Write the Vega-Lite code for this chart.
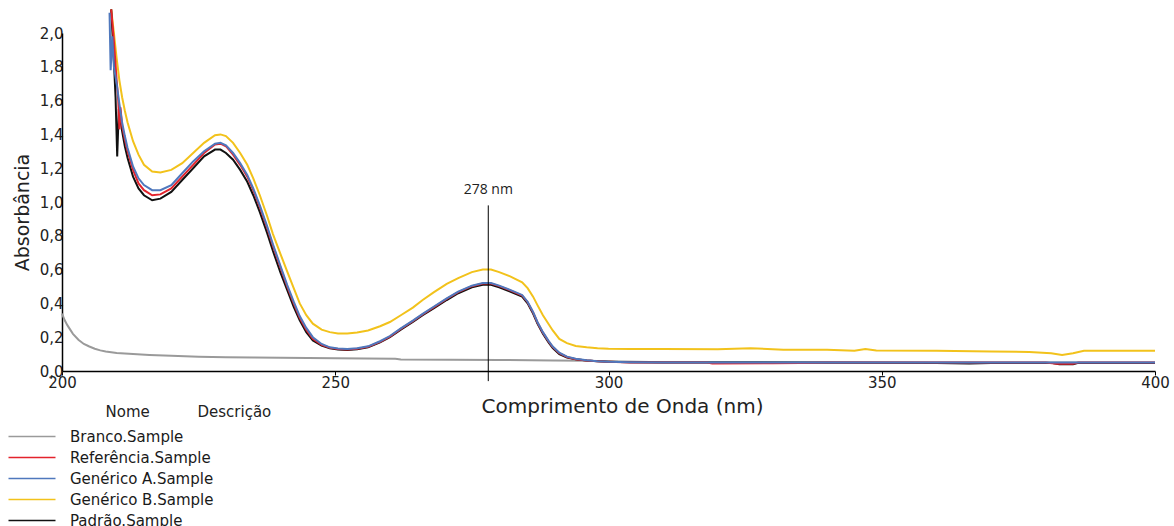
{
  "$schema": "https://vega.github.io/schema/vega-lite/v6.json",
  "width": 1093,
  "height": 338,
  "autosize": {"type": "none"},
  "padding": {"left": 62, "top": 33, "right": 19, "bottom": 155},
  "background": "white",
  "config": {"view": {"stroke": null}, "font": "DejaVu Sans"},
  "datasets": {
    "spectra": [
      {"s":"Branco.Sample","nm":200,"a":0.34},{"s":"Branco.Sample","nm":200.5,"a":0.3},{"s":"Branco.Sample","nm":201,"a":0.27},{"s":"Branco.Sample","nm":201.5,"a":0.245},{"s":"Branco.Sample","nm":202,"a":0.22},{"s":"Branco.Sample","nm":203,"a":0.185},{"s":"Branco.Sample","nm":204,"a":0.16},{"s":"Branco.Sample","nm":205,"a":0.145},{"s":"Branco.Sample","nm":206,"a":0.132},{"s":"Branco.Sample","nm":207,"a":0.122},{"s":"Branco.Sample","nm":208,"a":0.115},{"s":"Branco.Sample","nm":210,"a":0.107},{"s":"Branco.Sample","nm":213,"a":0.1},{"s":"Branco.Sample","nm":216,"a":0.095},{"s":"Branco.Sample","nm":220,"a":0.09},{"s":"Branco.Sample","nm":225,"a":0.085},{"s":"Branco.Sample","nm":230,"a":0.082},{"s":"Branco.Sample","nm":235,"a":0.08},{"s":"Branco.Sample","nm":240,"a":0.078},{"s":"Branco.Sample","nm":250,"a":0.075},{"s":"Branco.Sample","nm":261,"a":0.073},{"s":"Branco.Sample","nm":262,"a":0.068},{"s":"Branco.Sample","nm":280,"a":0.065},{"s":"Branco.Sample","nm":290,"a":0.062},{"s":"Branco.Sample","nm":296,"a":0.06},{"s":"Branco.Sample","nm":300,"a":0.057},{"s":"Branco.Sample","nm":310,"a":0.052},{"s":"Branco.Sample","nm":400,"a":0.05},

      {"s":"Genérico B.Sample","nm":209.0,"a":2.14},{"s":"Genérico B.Sample","nm":209.5,"a":2.0},{"s":"Genérico B.Sample","nm":210.0,"a":1.85},{"s":"Genérico B.Sample","nm":210.5,"a":1.72},{"s":"Genérico B.Sample","nm":211.0,"a":1.62},{"s":"Genérico B.Sample","nm":211.5,"a":1.54},{"s":"Genérico B.Sample","nm":212.0,"a":1.47},{"s":"Genérico B.Sample","nm":213.0,"a":1.36},{"s":"Genérico B.Sample","nm":214.0,"a":1.28},{"s":"Genérico B.Sample","nm":215.0,"a":1.22},{"s":"Genérico B.Sample","nm":216.5,"a":1.18},{"s":"Genérico B.Sample","nm":218,"a":1.175},{"s":"Genérico B.Sample","nm":220,"a":1.19},{"s":"Genérico B.Sample","nm":222,"a":1.23},{"s":"Genérico B.Sample","nm":224,"a":1.29},{"s":"Genérico B.Sample","nm":226,"a":1.35},{"s":"Genérico B.Sample","nm":228,"a":1.395},{"s":"Genérico B.Sample","nm":229,"a":1.4},{"s":"Genérico B.Sample","nm":230,"a":1.39},{"s":"Genérico B.Sample","nm":231.3,"a":1.35},{"s":"Genérico B.Sample","nm":232.6,"a":1.29},{"s":"Genérico B.Sample","nm":233.9,"a":1.22},{"s":"Genérico B.Sample","nm":235,"a":1.14},{"s":"Genérico B.Sample","nm":236.2,"a":1.04},{"s":"Genérico B.Sample","nm":237.5,"a":0.92},{"s":"Genérico B.Sample","nm":238.6,"a":0.81},{"s":"Genérico B.Sample","nm":240,"a":0.69},{"s":"Genérico B.Sample","nm":241.2,"a":0.59},{"s":"Genérico B.Sample","nm":242.4,"a":0.49},{"s":"Genérico B.Sample","nm":243.5,"a":0.4},{"s":"Genérico B.Sample","nm":244.7,"a":0.33},{"s":"Genérico B.Sample","nm":245.9,"a":0.28},{"s":"Genérico B.Sample","nm":247.5,"a":0.245},{"s":"Genérico B.Sample","nm":249,"a":0.23},{"s":"Genérico B.Sample","nm":250.5,"a":0.222},{"s":"Genérico B.Sample","nm":252.2,"a":0.222},{"s":"Genérico B.Sample","nm":254,"a":0.228},{"s":"Genérico B.Sample","nm":256,"a":0.24},{"s":"Genérico B.Sample","nm":258.2,"a":0.265},{"s":"Genérico B.Sample","nm":260,"a":0.29},{"s":"Genérico B.Sample","nm":262,"a":0.33},{"s":"Genérico B.Sample","nm":264.2,"a":0.375},{"s":"Genérico B.Sample","nm":266,"a":0.42},{"s":"Genérico B.Sample","nm":268,"a":0.465},{"s":"Genérico B.Sample","nm":270.4,"a":0.515},{"s":"Genérico B.Sample","nm":272.5,"a":0.55},{"s":"Genérico B.Sample","nm":275,"a":0.585},{"s":"Genérico B.Sample","nm":277,"a":0.6},{"s":"Genérico B.Sample","nm":278.5,"a":0.6},{"s":"Genérico B.Sample","nm":280,"a":0.585},{"s":"Genérico B.Sample","nm":282,"a":0.56},{"s":"Genérico B.Sample","nm":284.2,"a":0.525},{"s":"Genérico B.Sample","nm":285.2,"a":0.49},{"s":"Genérico B.Sample","nm":286.2,"a":0.44},{"s":"Genérico B.Sample","nm":287,"a":0.39},{"s":"Genérico B.Sample","nm":288,"a":0.33},{"s":"Genérico B.Sample","nm":289,"a":0.28},{"s":"Genérico B.Sample","nm":289.8,"a":0.24},{"s":"Genérico B.Sample","nm":291,"a":0.19},{"s":"Genérico B.Sample","nm":292.4,"a":0.165},{"s":"Genérico B.Sample","nm":294,"a":0.148},{"s":"Genérico B.Sample","nm":296,"a":0.14},{"s":"Genérico B.Sample","nm":298,"a":0.135},{"s":"Genérico B.Sample","nm":300,"a":0.132},{"s":"Genérico B.Sample","nm":304,"a":0.13},{"s":"Genérico B.Sample","nm":310,"a":0.13},{"s":"Genérico B.Sample","nm":320,"a":0.128},{"s":"Genérico B.Sample","nm":326,"a":0.135},{"s":"Genérico B.Sample","nm":332,"a":0.126},{"s":"Genérico B.Sample","nm":340,"a":0.126},{"s":"Genérico B.Sample","nm":345,"a":0.12},{"s":"Genérico B.Sample","nm":347,"a":0.13},{"s":"Genérico B.Sample","nm":349,"a":0.122},{"s":"Genérico B.Sample","nm":360,"a":0.12},{"s":"Genérico B.Sample","nm":370,"a":0.115},{"s":"Genérico B.Sample","nm":377,"a":0.113},{"s":"Genérico B.Sample","nm":381,"a":0.105},{"s":"Genérico B.Sample","nm":383,"a":0.095},{"s":"Genérico B.Sample","nm":385,"a":0.105},{"s":"Genérico B.Sample","nm":387,"a":0.12},{"s":"Genérico B.Sample","nm":400,"a":0.12},

      {"s":"Padrão.Sample","nm":209.0,"a":2.14},{"s":"Padrão.Sample","nm":209.4,"a":1.9},{"s":"Padrão.Sample","nm":209.8,"a":1.62},{"s":"Padrão.Sample","nm":210.1,"a":1.27},{"s":"Padrão.Sample","nm":210.4,"a":1.55},{"s":"Padrão.Sample","nm":211.0,"a":1.42},{"s":"Padrão.Sample","nm":211.5,"a":1.33},{"s":"Padrão.Sample","nm":212.0,"a":1.26},{"s":"Padrão.Sample","nm":213.0,"a":1.15},{"s":"Padrão.Sample","nm":214.0,"a":1.08},{"s":"Padrão.Sample","nm":215.0,"a":1.04},{"s":"Padrão.Sample","nm":216.5,"a":1.01},{"s":"Padrão.Sample","nm":218,"a":1.02},{"s":"Padrão.Sample","nm":220,"a":1.06},{"s":"Padrão.Sample","nm":222,"a":1.13},{"s":"Padrão.Sample","nm":224,"a":1.2},{"s":"Padrão.Sample","nm":226,"a":1.27},{"s":"Padrão.Sample","nm":228,"a":1.31},{"s":"Padrão.Sample","nm":229,"a":1.31},{"s":"Padrão.Sample","nm":230,"a":1.29},{"s":"Padrão.Sample","nm":231.3,"a":1.25},{"s":"Padrão.Sample","nm":232.6,"a":1.19},{"s":"Padrão.Sample","nm":233.9,"a":1.12},{"s":"Padrão.Sample","nm":235,"a":1.04},{"s":"Padrão.Sample","nm":236.2,"a":0.94},{"s":"Padrão.Sample","nm":237.5,"a":0.82},{"s":"Padrão.Sample","nm":238.6,"a":0.71},{"s":"Padrão.Sample","nm":240,"a":0.58},{"s":"Padrão.Sample","nm":241.2,"a":0.48},{"s":"Padrão.Sample","nm":242.4,"a":0.38},{"s":"Padrão.Sample","nm":243.5,"a":0.3},{"s":"Padrão.Sample","nm":244.7,"a":0.23},{"s":"Padrão.Sample","nm":245.9,"a":0.18},{"s":"Padrão.Sample","nm":247.5,"a":0.15},{"s":"Padrão.Sample","nm":249,"a":0.135},{"s":"Padrão.Sample","nm":250.5,"a":0.127},{"s":"Padrão.Sample","nm":252.2,"a":0.124},{"s":"Padrão.Sample","nm":254,"a":0.128},{"s":"Padrão.Sample","nm":256,"a":0.14},{"s":"Padrão.Sample","nm":258.2,"a":0.17},{"s":"Padrão.Sample","nm":260,"a":0.2},{"s":"Padrão.Sample","nm":262,"a":0.245},{"s":"Padrão.Sample","nm":264.2,"a":0.29},{"s":"Padrão.Sample","nm":266,"a":0.33},{"s":"Padrão.Sample","nm":268,"a":0.37},{"s":"Padrão.Sample","nm":270.4,"a":0.42},{"s":"Padrão.Sample","nm":272.5,"a":0.46},{"s":"Padrão.Sample","nm":275,"a":0.495},{"s":"Padrão.Sample","nm":277,"a":0.51},{"s":"Padrão.Sample","nm":278.5,"a":0.51},{"s":"Padrão.Sample","nm":280,"a":0.495},{"s":"Padrão.Sample","nm":282,"a":0.47},{"s":"Padrão.Sample","nm":284.2,"a":0.44},{"s":"Padrão.Sample","nm":285.2,"a":0.4},{"s":"Padrão.Sample","nm":286.2,"a":0.34},{"s":"Padrão.Sample","nm":287,"a":0.28},{"s":"Padrão.Sample","nm":288,"a":0.22},{"s":"Padrão.Sample","nm":289,"a":0.17},{"s":"Padrão.Sample","nm":289.8,"a":0.135},{"s":"Padrão.Sample","nm":291,"a":0.1},{"s":"Padrão.Sample","nm":292.4,"a":0.08},{"s":"Padrão.Sample","nm":294,"a":0.07},{"s":"Padrão.Sample","nm":296,"a":0.062},{"s":"Padrão.Sample","nm":298,"a":0.057},{"s":"Padrão.Sample","nm":300,"a":0.055},{"s":"Padrão.Sample","nm":304,"a":0.052},{"s":"Padrão.Sample","nm":310,"a":0.05},{"s":"Padrão.Sample","nm":320,"a":0.05},{"s":"Padrão.Sample","nm":360,"a":0.048},{"s":"Padrão.Sample","nm":366,"a":0.045},{"s":"Padrão.Sample","nm":370,"a":0.048},{"s":"Padrão.Sample","nm":381,"a":0.048},{"s":"Padrão.Sample","nm":382.5,"a":0.04},{"s":"Padrão.Sample","nm":385,"a":0.04},{"s":"Padrão.Sample","nm":386,"a":0.048},{"s":"Padrão.Sample","nm":400,"a":0.048},

      {"s":"Referência.Sample","nm":209.0,"a":2.14},{"s":"Referência.Sample","nm":209.5,"a":1.95},{"s":"Referência.Sample","nm":210.0,"a":1.72},{"s":"Referência.Sample","nm":210.3,"a":1.6},{"s":"Referência.Sample","nm":210.5,"a":1.43},{"s":"Referência.Sample","nm":210.7,"a":1.56},{"s":"Referência.Sample","nm":211.0,"a":1.45},{"s":"Referência.Sample","nm":211.5,"a":1.37},{"s":"Referência.Sample","nm":212.0,"a":1.3},{"s":"Referência.Sample","nm":213.0,"a":1.19},{"s":"Referência.Sample","nm":214.0,"a":1.11},{"s":"Referência.Sample","nm":215.0,"a":1.07},{"s":"Referência.Sample","nm":216.5,"a":1.04},{"s":"Referência.Sample","nm":218,"a":1.045},{"s":"Referência.Sample","nm":220,"a":1.08},{"s":"Referência.Sample","nm":222,"a":1.15},{"s":"Referência.Sample","nm":224,"a":1.22},{"s":"Referência.Sample","nm":226,"a":1.29},{"s":"Referência.Sample","nm":228,"a":1.34},{"s":"Referência.Sample","nm":229,"a":1.345},{"s":"Referência.Sample","nm":230,"a":1.33},{"s":"Referência.Sample","nm":231.3,"a":1.28},{"s":"Referência.Sample","nm":232.6,"a":1.22},{"s":"Referência.Sample","nm":233.9,"a":1.15},{"s":"Referência.Sample","nm":235,"a":1.07},{"s":"Referência.Sample","nm":236.2,"a":0.97},{"s":"Referência.Sample","nm":237.5,"a":0.85},{"s":"Referência.Sample","nm":238.6,"a":0.74},{"s":"Referência.Sample","nm":240,"a":0.61},{"s":"Referência.Sample","nm":241.2,"a":0.5},{"s":"Referência.Sample","nm":242.4,"a":0.4},{"s":"Referência.Sample","nm":243.5,"a":0.315},{"s":"Referência.Sample","nm":244.7,"a":0.245},{"s":"Referência.Sample","nm":245.9,"a":0.19},{"s":"Referência.Sample","nm":247.5,"a":0.155},{"s":"Referência.Sample","nm":249,"a":0.138},{"s":"Referência.Sample","nm":250.5,"a":0.13},{"s":"Referência.Sample","nm":252.2,"a":0.127},{"s":"Referência.Sample","nm":254,"a":0.131},{"s":"Referência.Sample","nm":256,"a":0.143},{"s":"Referência.Sample","nm":258.2,"a":0.173},{"s":"Referência.Sample","nm":260,"a":0.204},{"s":"Referência.Sample","nm":262,"a":0.249},{"s":"Referência.Sample","nm":264.2,"a":0.295},{"s":"Referência.Sample","nm":266,"a":0.335},{"s":"Referência.Sample","nm":268,"a":0.377},{"s":"Referência.Sample","nm":270.4,"a":0.427},{"s":"Referência.Sample","nm":272.5,"a":0.467},{"s":"Referência.Sample","nm":275,"a":0.502},{"s":"Referência.Sample","nm":277,"a":0.518},{"s":"Referência.Sample","nm":278.5,"a":0.518},{"s":"Referência.Sample","nm":280,"a":0.502},{"s":"Referência.Sample","nm":282,"a":0.477},{"s":"Referência.Sample","nm":284.2,"a":0.447},{"s":"Referência.Sample","nm":285.2,"a":0.407},{"s":"Referência.Sample","nm":286.2,"a":0.347},{"s":"Referência.Sample","nm":287,"a":0.287},{"s":"Referência.Sample","nm":288,"a":0.227},{"s":"Referência.Sample","nm":289,"a":0.177},{"s":"Referência.Sample","nm":289.8,"a":0.142},{"s":"Referência.Sample","nm":291,"a":0.105},{"s":"Referência.Sample","nm":292.4,"a":0.083},{"s":"Referência.Sample","nm":294,"a":0.07},{"s":"Referência.Sample","nm":296,"a":0.062},{"s":"Referência.Sample","nm":298,"a":0.057},{"s":"Referência.Sample","nm":300,"a":0.054},{"s":"Referência.Sample","nm":304,"a":0.051},{"s":"Referência.Sample","nm":310,"a":0.05},{"s":"Referência.Sample","nm":318,"a":0.05},{"s":"Referência.Sample","nm":319,"a":0.044},{"s":"Referência.Sample","nm":330,"a":0.046},{"s":"Referência.Sample","nm":335,"a":0.048},{"s":"Referência.Sample","nm":340,"a":0.05},{"s":"Referência.Sample","nm":380,"a":0.05},{"s":"Referência.Sample","nm":382,"a":0.043},{"s":"Referência.Sample","nm":385,"a":0.043},{"s":"Referência.Sample","nm":386,"a":0.05},{"s":"Referência.Sample","nm":400,"a":0.05},

      {"s":"Genérico A.Sample","nm":208.7,"a":2.12},{"s":"Genérico A.Sample","nm":208.9,"a":1.78},{"s":"Genérico A.Sample","nm":209.2,"a":1.98},{"s":"Genérico A.Sample","nm":209.5,"a":1.8},{"s":"Genérico A.Sample","nm":210.0,"a":1.7},{"s":"Genérico A.Sample","nm":210.5,"a":1.58},{"s":"Genérico A.Sample","nm":211.0,"a":1.47},{"s":"Genérico A.Sample","nm":211.5,"a":1.39},{"s":"Genérico A.Sample","nm":212.0,"a":1.32},{"s":"Genérico A.Sample","nm":213.0,"a":1.21},{"s":"Genérico A.Sample","nm":214.0,"a":1.14},{"s":"Genérico A.Sample","nm":215.0,"a":1.1},{"s":"Genérico A.Sample","nm":216.5,"a":1.07},{"s":"Genérico A.Sample","nm":218,"a":1.07},{"s":"Genérico A.Sample","nm":220,"a":1.1},{"s":"Genérico A.Sample","nm":222,"a":1.17},{"s":"Genérico A.Sample","nm":224,"a":1.24},{"s":"Genérico A.Sample","nm":226,"a":1.3},{"s":"Genérico A.Sample","nm":228,"a":1.345},{"s":"Genérico A.Sample","nm":229,"a":1.35},{"s":"Genérico A.Sample","nm":230,"a":1.335},{"s":"Genérico A.Sample","nm":231.3,"a":1.29},{"s":"Genérico A.Sample","nm":232.6,"a":1.23},{"s":"Genérico A.Sample","nm":233.9,"a":1.16},{"s":"Genérico A.Sample","nm":235,"a":1.08},{"s":"Genérico A.Sample","nm":236.2,"a":0.98},{"s":"Genérico A.Sample","nm":237.5,"a":0.86},{"s":"Genérico A.Sample","nm":238.6,"a":0.75},{"s":"Genérico A.Sample","nm":240,"a":0.62},{"s":"Genérico A.Sample","nm":241.2,"a":0.51},{"s":"Genérico A.Sample","nm":242.4,"a":0.41},{"s":"Genérico A.Sample","nm":243.5,"a":0.325},{"s":"Genérico A.Sample","nm":244.7,"a":0.255},{"s":"Genérico A.Sample","nm":245.9,"a":0.2},{"s":"Genérico A.Sample","nm":247.5,"a":0.16},{"s":"Genérico A.Sample","nm":249,"a":0.14},{"s":"Genérico A.Sample","nm":250.5,"a":0.133},{"s":"Genérico A.Sample","nm":252.2,"a":0.13},{"s":"Genérico A.Sample","nm":254,"a":0.134},{"s":"Genérico A.Sample","nm":256,"a":0.146},{"s":"Genérico A.Sample","nm":258.2,"a":0.176},{"s":"Genérico A.Sample","nm":260,"a":0.207},{"s":"Genérico A.Sample","nm":262,"a":0.252},{"s":"Genérico A.Sample","nm":264.2,"a":0.298},{"s":"Genérico A.Sample","nm":266,"a":0.338},{"s":"Genérico A.Sample","nm":268,"a":0.38},{"s":"Genérico A.Sample","nm":270.4,"a":0.43},{"s":"Genérico A.Sample","nm":272.5,"a":0.47},{"s":"Genérico A.Sample","nm":275,"a":0.505},{"s":"Genérico A.Sample","nm":277,"a":0.52},{"s":"Genérico A.Sample","nm":278.5,"a":0.52},{"s":"Genérico A.Sample","nm":280,"a":0.505},{"s":"Genérico A.Sample","nm":282,"a":0.48},{"s":"Genérico A.Sample","nm":284.2,"a":0.45},{"s":"Genérico A.Sample","nm":285.2,"a":0.41},{"s":"Genérico A.Sample","nm":286.2,"a":0.35},{"s":"Genérico A.Sample","nm":287,"a":0.29},{"s":"Genérico A.Sample","nm":288,"a":0.23},{"s":"Genérico A.Sample","nm":289,"a":0.18},{"s":"Genérico A.Sample","nm":289.8,"a":0.145},{"s":"Genérico A.Sample","nm":291,"a":0.108},{"s":"Genérico A.Sample","nm":292.4,"a":0.085},{"s":"Genérico A.Sample","nm":294,"a":0.072},{"s":"Genérico A.Sample","nm":296,"a":0.063},{"s":"Genérico A.Sample","nm":298,"a":0.058},{"s":"Genérico A.Sample","nm":300,"a":0.055},{"s":"Genérico A.Sample","nm":304,"a":0.052},{"s":"Genérico A.Sample","nm":310,"a":0.05},{"s":"Genérico A.Sample","nm":400,"a":0.05}
    ],
    "marker": [{"nm": 278, "top": 0.98, "bottom": -0.06, "label": "278 nm", "ly": 1.07}]
  },
  "layer": [
    {
      "data": {"name": "spectra"},
      "mark": {"type": "line", "clip": false, "strokeWidth": 2},
      "encoding": {
        "x": {"field": "nm", "type": "quantitative", "scale": {"domain": [200, 400], "nice": false, "zero": false},
          "axis": {"title": "Comprimento de Onda (nm)", "values": [200, 250, 300, 350, 400], "tickCount": 20, "format": "d", "grid": false,
            "domainColor": "#000", "domainWidth": 1.5, "tickColor": "#000", "tickSize": 4, "tickWidth": 1,
            "labelFont": "DejaVu Sans", "labelFontSize": 15, "labelColor": "#222", "labelPadding": 0, "labelFlush": false, "labelOverlap": false,
            "titleFont": "DejaVu Sans", "titleFontSize": 20, "titleFontWeight": "normal", "titleColor": "#222", "titlePadding": 6, "titleX": 560}},
        "y": {"field": "a", "type": "quantitative", "scale": {"domain": [0, 2], "nice": false},
          "axis": {"title": "Absorbância", "values": [0, 0.2, 0.4, 0.6, 0.8, 1.0, 1.2, 1.4, 1.6, 1.8, 2.0], "tickCount": 20,
            "labelExpr": "replace(format(datum.value, '.1f'), '.', ',')", "grid": false, "labelOverlap": false,
            "domainColor": "#000", "domainWidth": 1.5, "tickSize": 0, "labelPadding": -1,
            "labelFont": "DejaVu Sans", "labelFontSize": 15, "labelColor": "#222",
            "titleFont": "DejaVu Sans", "titleFontSize": 19, "titleFontWeight": "normal", "titleColor": "#222", "titlePadding": 7, "titleY": 179}},
        "color": {"field": "s", "type": "nominal",
          "scale": {"domain": ["Branco.Sample", "Referência.Sample", "Genérico A.Sample", "Genérico B.Sample", "Padrão.Sample"],
            "range": ["#9a9a9a", "#e3232c", "#4f78bd", "#f2c21b", "#111111"]},
          "legend": {"orient": "none", "legendX": -37.5, "legendY": 372, "direction": "vertical",
            "title": "\u200b\u00a0\u00a0\u00a0\u00a0\u00a0\u00a0\u00a0\u00a0\u00a0\u00a0\u00a0\u00a0\u00a0\u00a0\u00a0\u00a0\u00a0Nome\u00a0\u00a0\u00a0\u00a0\u00a0\u00a0\u00a0\u00a0\u00a0\u00a0Descrição",
            "titleLimit": 500,
            "titleFont": "DejaVu Sans", "titleFontSize": 15, "titleFontWeight": "normal", "titleColor": "#222", "titlePadding": 9,
            "symbolType": "M-4.7,0H4.7", "symbolSize": 100, "symbolStrokeWidth": 1.5, "labelLimit": 400,
            "labelFont": "DejaVu Sans", "labelFontSize": 15, "labelColor": "#1a1a1a", "labelOffset": 30.5, "rowPadding": 5, "padding": 0}}
      }
    },
    {
      "data": {"name": "marker"},
      "mark": {"type": "rule", "color": "#000", "strokeWidth": 1, "clip": false},
      "encoding": {"x": {"field": "nm", "type": "quantitative"}, "y": {"field": "top", "type": "quantitative"}, "y2": {"field": "bottom"}}
    },
    {
      "data": {"name": "marker"},
      "mark": {"type": "text", "font": "Open Sans", "fontSize": 14, "color": "#222", "align": "center", "baseline": "middle"},
      "encoding": {"x": {"field": "nm", "type": "quantitative"}, "y": {"field": "ly", "type": "quantitative"}, "text": {"field": "label"}}
    }
  ]
}
